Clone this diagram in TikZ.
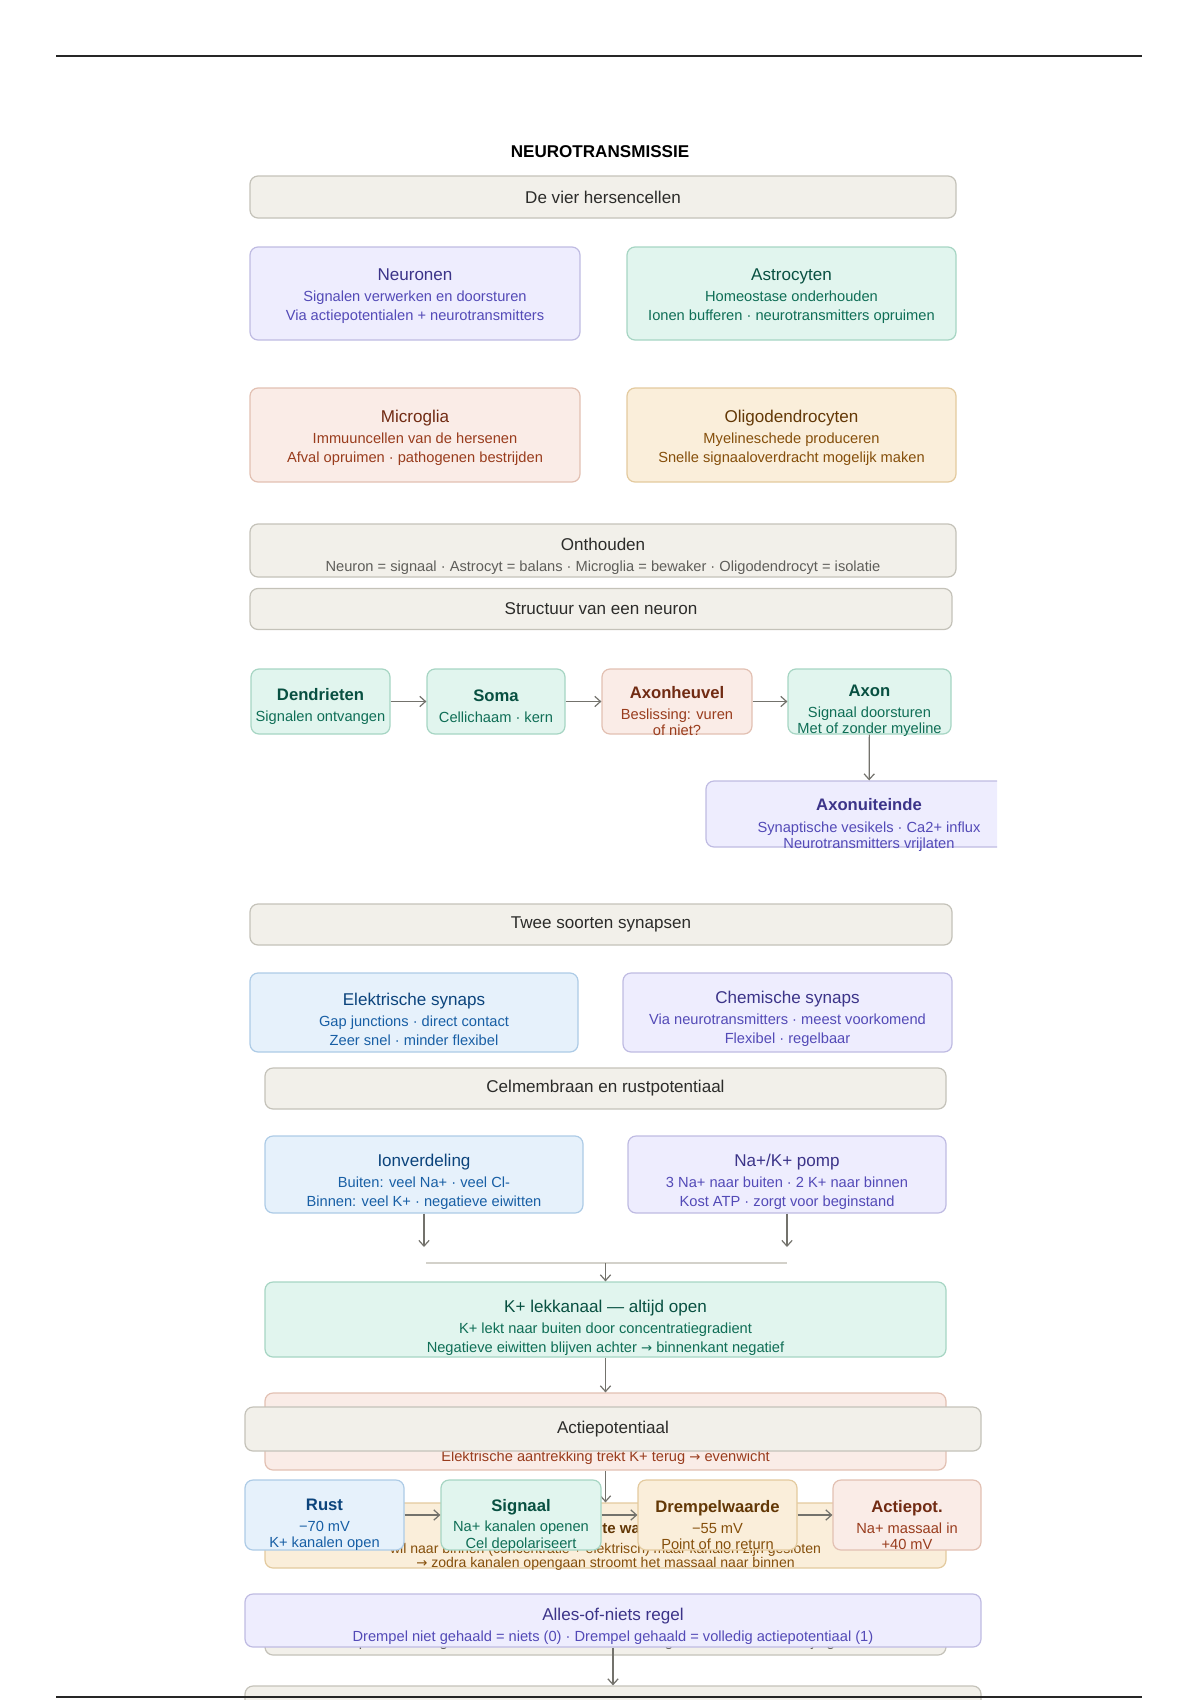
\documentclass[tikz,border=0pt]{standalone}
\usepackage{fontspec}
\setmainfont{Liberation Sans}
\newfontfamily\pijlfont{DejaVu Sans}
\usetikzlibrary{arrows.meta}

\definecolor{grayfill}{HTML}{F2F0EA}
\definecolor{graydraw}{HTML}{C4C2B9}
\definecolor{graytitle}{HTML}{2C2C2A}
\definecolor{graysub}{HTML}{5F5E5A}
\definecolor{purplefill}{HTML}{EEEDFE}
\definecolor{purpledraw}{HTML}{BFBBE2}
\definecolor{purpletitle}{HTML}{3C3489}
\definecolor{purplesub}{HTML}{534AB7}
\definecolor{tealfill}{HTML}{E1F5EE}
\definecolor{tealdraw}{HTML}{A6D5C3}
\definecolor{tealtitle}{HTML}{085041}
\definecolor{tealsub}{HTML}{0F6E56}
\definecolor{coralfill}{HTML}{FAECE7}
\definecolor{coraldraw}{HTML}{E2C0B2}
\definecolor{coraltitle}{HTML}{712B13}
\definecolor{coralsub}{HTML}{993C1D}
\definecolor{amberfill}{HTML}{FAEEDA}
\definecolor{amberdraw}{HTML}{E3CA9E}
\definecolor{ambertitle}{HTML}{633806}
\definecolor{ambersub}{HTML}{854F0B}
\definecolor{bluefill}{HTML}{E6F1FB}
\definecolor{bluedraw}{HTML}{ADCBE6}
\definecolor{bluetitle}{HTML}{0C447C}
\definecolor{bluesub}{HTML}{185FA5}
\definecolor{linkgray}{HTML}{73726C}
\definecolor{joingray}{HTML}{D3D1CA}

\newcommand{\pxu}{0.175mm}
\newcommand{\titelfont}{\fontsize{8.5}{10}\selectfont}
\newcommand{\ketenfont}{\bfseries\fontsize{8.3}{10}\selectfont}
\newcommand{\pijl}{{\pijlfont\fontsize{6.6}{8}\selectfont →}}

\begin{document}
\begin{tikzpicture}[x=0.175mm, y=-0.175mm,
  every node/.style={inner sep=0pt},
  card/.style={draw, rounded corners=1.4mm, line width=0.6pt},
  boxsize/.style 2 args={minimum width=#1*\pxu, minimum height=#2*\pxu},
  graycard/.style={card, draw=graydraw, fill=grayfill},
  purplecard/.style={card, draw=purpledraw, fill=purplefill},
  tealcard/.style={card, draw=tealdraw, fill=tealfill},
  coralcard/.style={card, draw=coraldraw, fill=coralfill},
  ambercard/.style={card, draw=amberdraw, fill=amberfill},
  bluecard/.style={card, draw=bluedraw, fill=bluefill},
  head/.style={text=graytitle, font=\titelfont},
  body/.style={align=center, font=\fontsize{7.3}{9.4}\selectfont},
  chain/.style={align=center, font=\fontsize{7.3}{8}\selectfont},
  link/.style={draw=linkgray, line width=0.6pt, -{Straight Barb[length=1mm,width=1.8mm]}},
  rule/.style={draw=black!85, line width=1.3pt}]
\useasboundingbox (0,0) rectangle (1200,1700);

\coordinate (topl) at (56,56);
\coordinate (topr) at (1142,56);
\draw [rule] (topl) -- (topr);
\node (titel) [font=\bfseries\fontsize{8.5}{10}\selectfont] at (600,152) {NEUROTRANSMISSIE};

\node (vier) [graycard, boxsize={706}{42}, head] at (603,197) {De vier hersencellen};

\node (neuronen) [purplecard, boxsize={330}{93}] at (415,293.5) {};
\node (neuronen-t) [body, text=purplesub] at (415,296.5) {{\color{purpletitle}\titelfont Neuronen}\\[1pt] Signalen verwerken en doorsturen\\ Via actiepotentialen + neurotransmitters};
\node (astro) [tealcard, boxsize={329}{93}] at (791.5,293.5) {};
\node (astro-t) [body, text=tealsub] at (791.5,296.5) {{\color{tealtitle}\titelfont Astrocyten}\\[1pt] Homeostase onderhouden\\ Ionen bufferen · neurotransmitters opruimen};
\node (microglia) [coralcard, boxsize={330}{94}] at (415,435) {};
\node (microglia-t) [body, text=coralsub] at (415,438) {{\color{coraltitle}\titelfont Microglia}\\[1pt] Immuuncellen van de hersenen\\ Afval opruimen · pathogenen bestrijden};
\node (oligo) [ambercard, boxsize={329}{94}] at (791.5,435) {};
\node (oligo-t) [body, text=ambersub] at (791.5,438) {{\color{ambertitle}\titelfont Oligodendrocyten}\\[1pt] Myelineschede produceren\\ Snelle signaaloverdracht mogelijk maken};

\node (onthouden) [graycard, boxsize={706}{53}] at (603,550.5) {};
\node (onthouden-t) [body, text=graysub] at (603,556.5) {{\color{graytitle}\titelfont Onthouden}\\[1pt] Neuron = signaal · Astrocyt = balans · Microglia = bewaker · Oligodendrocyt = isolatie};
\node (structuur) [graycard, boxsize={702}{41}, head] at (601,609) {Structuur van een neuron};

\node (dendrieten) [tealcard, boxsize={139}{65}] at (320.5,701.5) {};
\node (dendrieten-t) [chain, text=tealsub] at (320.5,706.5) {{\color{tealtitle}\ketenfont Dendrieten}\\[2.4pt] Signalen ontvangen};
\node (soma) [tealcard, boxsize={138}{65}] at (496,701.5) {};
\node (soma-t) [chain, text=tealsub] at (496,706.5) {{\color{tealtitle}\ketenfont Soma}\\[2.4pt] Cellichaam · kern};
\node (heuvel) [coralcard, boxsize={150}{65}] at (677,701.5) {};
\node (heuvel-t) [chain, text=coralsub] at (677,711) {{\color{coraltitle}\ketenfont Axonheuvel}\\[2.4pt] Beslissing: vuren\\ of niet?};
\node (axon) [tealcard, boxsize={163}{65}] at (869.5,701.5) {};
\node (axon-t) [chain, text=tealsub] at (869.5,710.5) {{\color{tealtitle}\ketenfont Axon}\\[2.4pt] Signaal doorsturen\\ Met of zonder myeline};
\begin{scope}
  \clip (0,0) rectangle (997,1700);
  \node (uiteinde) [purplecard, boxsize={326}{66}] at (869,814) {};
\end{scope}
\node (uiteinde-t) [chain, text=purplesub] at (869,825) {{\color{purpletitle}\ketenfont Axonuiteinde}\\[3pt] Synaptische vesikels · Ca2+ influx\\ Neurotransmitters vrijlaten};
\draw [link] (dendrieten) -- (soma);
\draw [link] (soma) -- (heuvel);
\draw [link] (heuvel) -- (axon);
\draw [link] (axon) -- (uiteinde);

\node (twee) [graycard, boxsize={702}{41}, head] at (601,924.5) {Twee soorten synapsen};
\node (elektrisch) [bluecard, boxsize={328}{79}] at (414,1012.5) {};
\node (elektrisch-t) [body, text=bluesub] at (414,1019) {{\color{bluetitle}\titelfont Elektrische synaps}\\[1pt] Gap junctions · direct contact\\ Zeer snel · minder flexibel};
\node (chemisch) [purplecard, boxsize={329}{79}] at (787.5,1012.5) {};
\node (chemisch-t) [body, text=purplesub] at (787.5,1019) {{\color{purpletitle}\titelfont Chemische synaps}\\[1pt] Via neurotransmitters · meest voorkomend\\ Flexibel · regelbaar};

\node (membraan) [graycard, boxsize={681}{41}, head] at (605.5,1088.5) {Celmembraan en rustpotentiaal};
\node (ionen) [bluecard, boxsize={318}{77}] at (424,1174.5) {};
\node (ionen-t) [body, text=bluesub] at (424,1182) {{\color{bluetitle}\titelfont Ionverdeling}\\[1pt] Buiten: veel Na+ · veel Cl-\\ Binnen: veel K+ · negatieve eiwitten};
\node (pomp) [purplecard, boxsize={318}{77}] at (787,1174.5) {};
\node (pomp-t) [body, text=purplesub] at (787,1182) {{\color{purpletitle}\titelfont Na+/K+ pomp}\\[1pt] 3 Na+ naar buiten · 2 K+ naar binnen\\ Kost ATP · zorgt voor beginstand};
\coordinate (ionen-end) at (424,1247);
\coordinate (pomp-end) at (787,1247);
\coordinate (joinl) at (426,1263);
\coordinate (joinr) at (787,1263);
\coordinate (joinm) at (605.5,1263);
\draw [link] (ionen) -- (ionen-end);
\draw [link] (pomp) -- (pomp-end);
\draw [draw=joingray, line width=0.6pt] (joinl) -- (joinr);

\node (lek) [tealcard, boxsize={681}{75}] at (605.5,1319.5) {};
\node (lek-t) [body, text=tealsub] at (605.5,1328) {{\color{tealtitle}\titelfont K+ lekkanaal — altijd open}\\[1pt] K+ lekt naar buiten door concentratiegradient\\ Negatieve eiwitten blijven achter \pijl{} binnenkant negatief};
\draw [link] (joinm) -- (lek);

\node (evenwicht) [coralcard, boxsize={681}{77}] at (605.5,1431.5) {};
\node (evenwicht-t) [body, text=coralsub] at (605.5,1458) {Elektrische aantrekking trekt K+ terug \pijl{} evenwicht};
\node (actie) [graycard, boxsize={736}{44}, head] at (613,1429) {Actiepotentiaal};
\draw [link] (lek) -- (evenwicht);

\node (wachten) [ambercard, boxsize={681}{65}] at (605.5,1535.5) {};
\node (wachten-t) [align=center, text=ambersub, font=\fontsize{7}{6.8}\selectfont] at (605.5,1546.5) {{\color{ambertitle}\bfseries\fontsize{7.5}{8}\selectfont Na+ staat te wachten}\\[3pt] wil naar binnen (concentratie + elektrisch) maar kanalen zijn gesloten\\ \pijl{} zodra kanalen opengaan stroomt het massaal naar binnen};
\draw [link] (evenwicht) -- (wachten);

\node (rust) [bluecard, boxsize={159}{70}] at (324.5,1515) {};
\node (rust-t) [chain, text=bluesub] at (324.5,1525) {{\color{bluetitle}\ketenfont Rust}\\[2.4pt] −70 mV\\ K+ kanalen open};
\node (signaal) [tealcard, boxsize={160}{70}] at (521,1515) {};
\node (signaal-t) [chain, text=tealsub] at (521,1525) {{\color{tealtitle}\ketenfont Signaal}\\[2.4pt] Na+ kanalen openen\\ Cel depolariseert};
\node (drempel) [ambercard, boxsize={159}{70}] at (717.5,1515) {};
\node (drempel-t) [chain, text=ambersub] at (717.5,1525) {{\color{ambertitle}\ketenfont Drempelwaarde}\\[2.4pt] −55 mV\\ Point of no return};
\node (piek) [coralcard, boxsize={148}{70}] at (907,1515) {};
\node (piek-t) [chain, text=coralsub] at (907,1525) {{\color{coraltitle}\ketenfont Actiepot.}\\[2.4pt] Na+ massaal in\\ +40 mV};
\draw [link] (rust) -- (signaal);
\draw [link] (signaal) -- (drempel);
\draw [link] (drempel) -- (piek);

\node (herstel) [graycard, boxsize={681}{60}] at (605.5,1625) {};
\node (herstel-t) [body, text=graysub] at (605.5,1643) {Pomp herstelt beginstand · K+ lekt uit · cel wordt negatief · Na+ kanalen zijn gesloten};
\node (alles) [purplecard, boxsize={736}{53}] at (613,1620.5) {};
\node (alles-t) [body, text=purplesub] at (613,1626.5) {{\color{purpletitle}\titelfont Alles-of-niets regel}\\[1pt] Drempel niet gehaald = niets (0) · Drempel gehaald = volledig actiepotentiaal (1)};
\node (volgende) [graycard, boxsize={736}{70}] at (613,1721) {};
\draw [link] (alles) -- (volgende);

\coordinate (botl) at (56,1697);
\coordinate (botr) at (1142,1697);
\draw [rule] (botl) -- (botr);
\end{tikzpicture}
\end{document}
